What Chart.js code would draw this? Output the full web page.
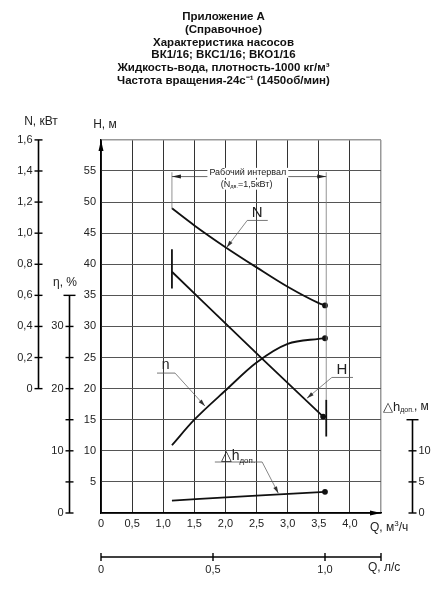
<!DOCTYPE html>
<html>
<head>
<meta charset="utf-8">
<script src="https://cdn.jsdelivr.net/npm/chart.js@4.4.0/dist/chart.umd.min.js"></script>
<style>
body { margin: 0; background: #fff; }
#wrap { width: 447px; height: 600px; }
</style>
</head>
<body>
<div id="wrap"><canvas id="myChart"></canvas></div>
<script>
const titleLines = [
    "Приложение А",
    "(Справочное)",
    "Характеристика насосов",
    "ВК1/16; ВКС1/16; ВКО1/16",
    "Жидкость-вода, плотность-1000 кг/м³",
    "Частота вращения-24с⁻¹ (1450об/мин)"
]

// N, кВт
const qN = [1.14, 1.5, 2.0, 2.5, 3.0, 3.5, 3.6]
const nValues = [1.16, 1.05, 0.91, 0.78, 0.655, 0.55, 0.535]
// H, м
const qH = [1.14, 2.58, 3.57]
const hValues = [38.8, 24.9, 15.5]
// η, %
const qEta = [1.14, 1.5, 2.0, 2.5, 3.0, 3.5, 3.6]
const etaValues = [10.9, 15.0, 19.7, 24.2, 27.2, 28.0, 28.1]
// Δh доп., м
const qDh = [1.14, 2.5, 3.6]
const dhValues = [2.0, 2.78, 3.4]

// extra axes
const nTicks = [0, 0.2, 0.4, 0.6, 0.8, 1.0, 1.2, 1.4, 1.6]
const etaTicks = [0, 5, 10, 15, 20, 25, 30]
const etaLabels = [0, 10, 20, 30]
const dhTicks = [0, 5, 10]
const qLsTicks = [0, 0.5, 1.0]
const workQ = [1.14, 3.62]

const FAM = "'Liberation Sans', Arial, sans-serif"
const f = (size, weight) => `${weight || "normal"} ${size}px ${FAM}`
const comma = (v, d) => v === 0 ? "0" : v.toFixed(d).replace(".", ",")

function pts(qs, vs) {
    return qs.map((q, i) => ({ x: q, y: vs[i] }))
}

function line(ctx, x1, y1, x2, y2, w, color) {
    ctx.beginPath()
    ctx.moveTo(x1, y1)
    ctx.lineTo(x2, y2)
    ctx.lineWidth = w
    ctx.strokeStyle = color
    ctx.stroke()
}

function arrow(ctx, x1, y1, x2, y2, len, half, color) {
    const ang = Math.atan2(y2 - y1, x2 - x1)
    ctx.beginPath()
    ctx.moveTo(x2, y2)
    ctx.lineTo(x2 - len * Math.cos(ang) + half * Math.sin(ang), y2 - len * Math.sin(ang) - half * Math.cos(ang))
    ctx.lineTo(x2 - len * Math.cos(ang) - half * Math.sin(ang), y2 - len * Math.sin(ang) + half * Math.cos(ang))
    ctx.closePath()
    ctx.fillStyle = color
    ctx.fill()
}

function text(ctx, str, x, y, align, font, color) {
    ctx.font = font
    ctx.textAlign = align
    ctx.textBaseline = "middle"
    ctx.fillStyle = color || "#222"
    ctx.fillText(str, x, y)
}

// runs: [[text, size, dy]]
function runs(ctx, parts, x, y, align) {
    let total = 0
    parts.forEach(p => { ctx.font = f(p[1]); total += ctx.measureText(p[0]).width })
    let cx = align === "center" ? x - total / 2 : (align === "right" ? x - total : x)
    parts.forEach(p => {
        ctx.font = f(p[1])
        ctx.textAlign = "left"
        ctx.textBaseline = "middle"
        ctx.fillStyle = "#222"
        ctx.fillText(p[0], cx, y + (p[2] || 0))
        cx += ctx.measureText(p[0]).width
    })
    return total
}

const overlay = {
    id: "overlay",
    afterDraw(chart) {
        const ctx = chart.ctx
        const a = chart.chartArea
        const sx = chart.scales.x
        const sh = chart.scales.y
        const sN = chart.scales.yN
        const sE = chart.scales.yEta
        const sD = chart.scales.yDh
        const X = q => sx.getPixelForValue(q)
        const Y = v => sh.getPixelForValue(v)
        ctx.save()

        // main axis arrows
        arrow(ctx, a.left, a.top + 20, a.left, a.top, 11, 2.5, "#000")
        arrow(ctx, a.right - 20, a.bottom, a.right, a.bottom, 11, 2.5, "#000")

        // N axis
        const nx = 38.5
        line(ctx, nx, sN.getPixelForValue(0), nx, sN.getPixelForValue(1.6), 1.6, "#000")
        nTicks.forEach(v => {
            const y = sN.getPixelForValue(v)
            line(ctx, nx - 4, y, nx + 4, y, 1.4, "#000")
            text(ctx, comma(v, 1), nx - 6, y, "right", f(11))
        })
        text(ctx, "N, кВт", 41, 122, "center", f(12))

        // η axis
        const ex = 69.5
        line(ctx, ex, sE.getPixelForValue(0), ex, sE.getPixelForValue(35), 1.6, "#000")
        etaTicks.forEach(v => {
            const y = sE.getPixelForValue(v)
            line(ctx, ex - 4, y, ex + 4, y, 1.4, "#000")
        })
        const ecap = sE.getPixelForValue(35)
        line(ctx, ex - 6, ecap, ex + 6, ecap, 1.4, "#000")
        etaLabels.forEach(v => {
            text(ctx, String(v), ex - 6, sE.getPixelForValue(v), "right", f(11))
        })
        text(ctx, "η, %", 65, 283, "center", f(12))

        // H title
        text(ctx, "H, м", 105, 125, "center", f(12))

        // Δh axis
        const dx = 412.5
        line(ctx, dx, sD.getPixelForValue(0), dx, sD.getPixelForValue(15), 1.6, "#000")
        dhTicks.forEach(v => {
            const y = sD.getPixelForValue(v)
            line(ctx, dx - 4, y, dx + 4, y, 1.4, "#000")
            text(ctx, String(v), dx + 6, y, "left", f(11))
        })
        const dcap = sD.getPixelForValue(15)
        line(ctx, dx - 6, dcap, dx + 6, dcap, 1.4, "#000")
        runs(ctx, [["△h", 13], ["доп.", 7, 3], [", м", 12]], 383, 407, "left")

        // Q, m3/h title
        runs(ctx, [["Q, м", 12], ["3", 8, -4], ["/ч", 12]], 370, 528, "left")

        // Q, l/s axis
        const ly = 557
        line(ctx, a.left, ly, a.right, ly, 1.4, "#000")
        qLsTicks.forEach(v => {
            const x = X(v * 3.6)
            line(ctx, x, ly - 4, x, ly + 4, 1.4, "#000")
            text(ctx, comma(v, 1), x, ly + 13, "center", f(11))
        })
        line(ctx, a.right, ly - 4, a.right, ly + 4, 1.4, "#000")
        text(ctx, "Q, л/с", 368, 568, "left", f(12))

        // working interval
        const dimY = Y(54.1)
        line(ctx, X(workQ[0]), Y(54.8), X(workQ[0]), Y(48.9), 0.8, "#777")
        line(ctx, X(workQ[1]), Y(54.8), X(workQ[1]), Y(18.2), 0.8, "#777")
        line(ctx, X(workQ[0]), dimY, X(workQ[1]), dimY, 0.8, "#444")
        arrow(ctx, X(workQ[0]) + 20, dimY, X(workQ[0]), dimY, 9, 2, "#222")
        arrow(ctx, X(workQ[1]) - 20, dimY, X(workQ[1]), dimY, 9, 2, "#222")
        ctx.font = f(9)
        const t1 = "Рабочий интервал"
        const w1 = ctx.measureText(t1).width
        const cx1 = X(2.36)
        ctx.fillStyle = "#fff"
        ctx.fillRect(cx1 - w1 / 2 - 2, Y(54.7) - 5, w1 + 4, 10)
        text(ctx, t1, cx1, Y(54.7), "center", f(9))
        ctx.font = f(9)
        const w2 = ctx.measureText("(N=1,5кВт)").width + 8
        ctx.fillStyle = "#fff"
        ctx.fillRect(X(2.34) - w2 / 2 - 2, Y(52.8) - 5, w2 + 4, 10)
        runs(ctx, [["(N", 9], ["дв.", 5.5, 2], ["=1,5кВт)", 9]], X(2.34), Y(52.8), "center")

        // end bars
        line(ctx, X(workQ[0]), Y(36.1), X(workQ[0]), Y(42.4), 1.8, "#111")
        line(ctx, X(workQ[1]), Y(12.3), X(workQ[1]), Y(18.2), 1.8, "#111")

        // curve labels with leaders
        // N
        line(ctx, X(2.35), Y(47.05), X(2.68), Y(47.05), 0.8, "#555")
        line(ctx, X(2.35), Y(47.05), X(2.02), Y(42.7), 0.7, "#555")
        arrow(ctx, X(2.35), Y(47.05), X(2.02), Y(42.7), 7, 2, "#333")
        text(ctx, "N", X(2.51), Y(48.3), "center", f(15))
        // η
        line(ctx, X(0.9), Y(22.5), X(1.19), Y(22.5), 0.8, "#555")
        line(ctx, X(1.19), Y(22.5), X(1.67), Y(17.2), 0.7, "#555")
        arrow(ctx, X(1.19), Y(22.5), X(1.67), Y(17.2), 7, 2, "#333")
        text(ctx, "n", X(1.04), Y(23.7), "center", f(14))
        // H
        line(ctx, X(3.71), Y(21.8), X(4.05), Y(21.8), 0.8, "#555")
        line(ctx, X(3.71), Y(21.8), X(3.31), Y(18.45), 0.7, "#555")
        arrow(ctx, X(3.71), Y(21.8), X(3.31), Y(18.45), 7, 2, "#333")
        text(ctx, "H", X(3.87), Y(23.0), "center", f(15))
        // Δh
        line(ctx, X(1.83), Y(8.2), X(2.59), Y(8.2), 0.8, "#555")
        line(ctx, X(2.59), Y(8.2), X(2.85), Y(3.17), 0.7, "#555")
        arrow(ctx, X(2.59), Y(8.2), X(2.85), Y(3.17), 7, 2, "#333")
        runs(ctx, [["△h", 14], ["доп.", 8, 4]], X(2.2), Y(9.1), "center")

        ctx.restore()
    }
}

const lastDot = c => c.dataIndex === c.dataset.data.length - 1 ? 2 : 0

function series(label, qs, vs, axis) {
    return {
        label: label,
        data: pts(qs, vs),
        yAxisID: axis,
        borderColor: "#111",
        backgroundColor: "#111",
        borderWidth: 1.8,
        cubicInterpolationMode: "monotone",
        pointRadius: lastDot,
        pointHoverRadius: lastDot,
        fill: false
    }
}

const config = {
    type: "line",
    data: {
        datasets: [
            series("N", qN, nValues, "yN"),
            series("H", qH, hValues, "y"),
            series("η", qEta, etaValues, "yEta"),
            series("Δh", qDh, dhValues, "yDh")
        ]
    },
    options: {
        responsive: true,
        maintainAspectRatio: false,
        animation: false,
        events: [],
        layout: { padding: 0 },
        plugins: {
            legend: { display: false },
            tooltip: { enabled: false },
            title: {
                display: true,
                text: titleLines,
                color: "#111",
                font: { family: FAM, size: 11.5, weight: "bold", lineHeight: 1.1 },
                padding: { top: 11, bottom: 53 }
            }
        },
        scales: {
            x: {
                type: "linear",
                min: 0,
                max: 4.5,
                afterFit: s => { s.height = 87 },
                ticks: {
                    stepSize: 0.5,
                    padding: 4,
                    color: "#222",
                    font: { family: FAM, size: 11 },
                    maxRotation: 0,
                    callback: v => v >= 4.5 ? "" : comma(v, 1)
                },
                grid: {
                    drawTicks: false,
                    color: c => c.tick && c.tick.value >= 4.5 ? "#999" : "#333",
                    lineWidth: c => c.tick && c.tick.value >= 4.5 ? 1.5 : 1
                },
                border: { color: "#000", width: 1.5 }
            },
            y: {
                position: "left",
                min: 0,
                max: 60,
                afterFit: s => { s.width = 101 },
                ticks: {
                    stepSize: 5,
                    padding: 5,
                    color: "#222",
                    font: { family: FAM, size: 11 },
                    callback: v => (v === 0 || v === 60) ? "" : String(v)
                },
                grid: {
                    drawTicks: false,
                    color: c => c.tick && c.tick.value >= 60 ? "#999" : "#555",
                    lineWidth: c => c.tick && c.tick.value >= 60 ? 1.5 : 1
                },
                border: { color: "#000", width: 1.5 }
            },
            yN: { display: false, min: -0.8, max: 1.6 },
            yEta: { display: false, min: 0, max: 60 },
            yDh: {
                position: "right",
                min: 0,
                max: 60,
                afterFit: s => { s.width = 66 },
                ticks: { display: false },
                grid: { display: false, drawOnChartArea: false },
                border: { display: false }
            }
        }
    },
    plugins: [overlay]
}

const chartDOM = document.getElementById("myChart")
const myChart = new Chart(chartDOM, config)
</script>
</body>
</html>
